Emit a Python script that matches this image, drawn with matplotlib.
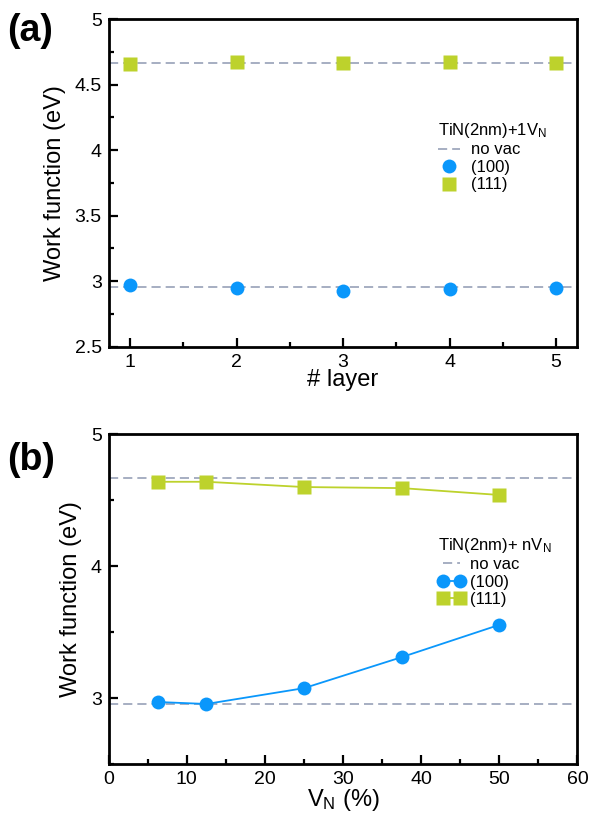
import matplotlib
matplotlib.use('Agg')
import matplotlib.pyplot as plt
from matplotlib.ticker import MultipleLocator, FormatStrFormatter

plt.rcParams['font.family'] = ['Liberation Sans', 'DejaVu Sans']
plt.rcParams['mathtext.fontset'] = 'custom'
plt.rcParams['mathtext.rm'] = 'Liberation Sans'
plt.rcParams['mathtext.it'] = 'Liberation Sans'

# panel (a): work function vs number of layers, 1 vacancy
layers = [1, 2, 3, 4, 5]
wf_a_100 = [2.972, 2.947, 2.926, 2.941, 2.947]
wf_a_111 = [4.659, 4.676, 4.667, 4.670, 4.667]

# panel (b): work function vs vacancy concentration
vn_pct = [6.25, 12.5, 25, 37.5, 50]
wf_b_100 = [2.97, 2.955, 3.075, 3.31, 3.555]
wf_b_111 = [4.64, 4.64, 4.60, 4.592, 4.54]

# no-vacancy references
novac_100 = 2.955
novac_111 = 4.667

blue = '#0a97fb'
green = '#bdd22c'
grey = '#97a1b8'

fig = plt.figure(figsize=(5.91, 8.13), dpi=100)
ax1 = fig.add_axes([0.184, 0.5736, 0.793, 0.4027])
ax2 = fig.add_axes([0.184, 0.0603, 0.793, 0.4055])


def style(ax):
    for s in ax.spines.values():
        s.set_linewidth(2.0)
    ax.tick_params(which='both', direction='in', width=1.6, labelsize=14,
                   top=False, right=False, pad=5)
    ax.tick_params(which='major', length=6.5)
    ax.tick_params(which='minor', length=3.5)
    ax.yaxis.set_major_formatter(FormatStrFormatter('%g'))


dash = (0, (5.5, 3))

# ---- (a)
ax1.axhline(novac_111, color=grey, lw=1.2, ls=dash, zorder=1)
ax1.axhline(novac_100, color=grey, lw=1.2, ls=dash, zorder=1,
            label='no vac')
ax1.plot(layers, wf_a_100, 'o', color=blue, ms=10, mec='none', label='(100)')
ax1.plot(layers, wf_a_111, 's', color=green, ms=9.5, mec='none', label='(111)')
ax1.set_xlim(0.8, 5.2)
ax1.set_ylim(2.5, 5)
ax1.xaxis.set_major_locator(MultipleLocator(1))
ax1.xaxis.set_minor_locator(MultipleLocator(0.5))
ax1.yaxis.set_major_locator(MultipleLocator(0.5))
ax1.yaxis.set_minor_locator(MultipleLocator(0.25))
ax1.set_xlabel('# layer', fontsize=17, labelpad=-1)
ax1.set_ylabel('Work function (eV)', fontsize=17, labelpad=6)
style(ax1)
leg1 = ax1.legend(title=r'TiN(2nm)+1V$_\mathrm{N}$', loc='upper left',
                  bbox_to_anchor=(0.685, 0.715), frameon=False, fontsize=12,
                  title_fontsize=12, handlelength=1.3, handletextpad=0.7,
                  labelspacing=0.15, borderpad=0, numpoints=1)
leg1._legend_box.align = 'left'
fig.text(0.012, 0.962, '(a)', fontsize=27, fontweight='bold', va='center')

# ---- (b)
ax2.axhline(novac_111, color=grey, lw=1.2, ls=dash, zorder=1)
ax2.axhline(novac_100, color=grey, lw=1.2, ls=dash, zorder=1,
            label='no vac')
ax2.plot(vn_pct, wf_b_100, '-o', color=blue, lw=1.3, ms=10, mec='none',
         label='(100)')
ax2.plot(vn_pct, wf_b_111, '-s', color=green, lw=1.3, ms=9.5, mec='none',
         label='(111)')
ax2.set_xlim(0, 60)
ax2.set_ylim(2.5, 5)
ax2.xaxis.set_major_locator(MultipleLocator(10))
ax2.xaxis.set_minor_locator(MultipleLocator(5))
ax2.set_yticks([3, 4, 5])
ax2.yaxis.set_minor_locator(MultipleLocator(0.5))
ax2.set_xlabel(r'V$_\mathrm{N}$ (%)', fontsize=17, labelpad=-1)
ax2.set_ylabel('Work function (eV)', fontsize=17, labelpad=6)
style(ax2)
leg2 = ax2.legend(title=r'TiN(2nm)+ nV$_\mathrm{N}$', loc='upper left',
                  bbox_to_anchor=(0.685, 0.718), frameon=False, fontsize=12,
                  title_fontsize=12, handlelength=1.6, handletextpad=0.3,
                  labelspacing=0.15, borderpad=0, numpoints=2)
leg2._legend_box.align = 'left'
fig.text(0.012, 0.434, '(b)', fontsize=27, fontweight='bold', va='center')

fig.savefig('out.png', dpi=100)
